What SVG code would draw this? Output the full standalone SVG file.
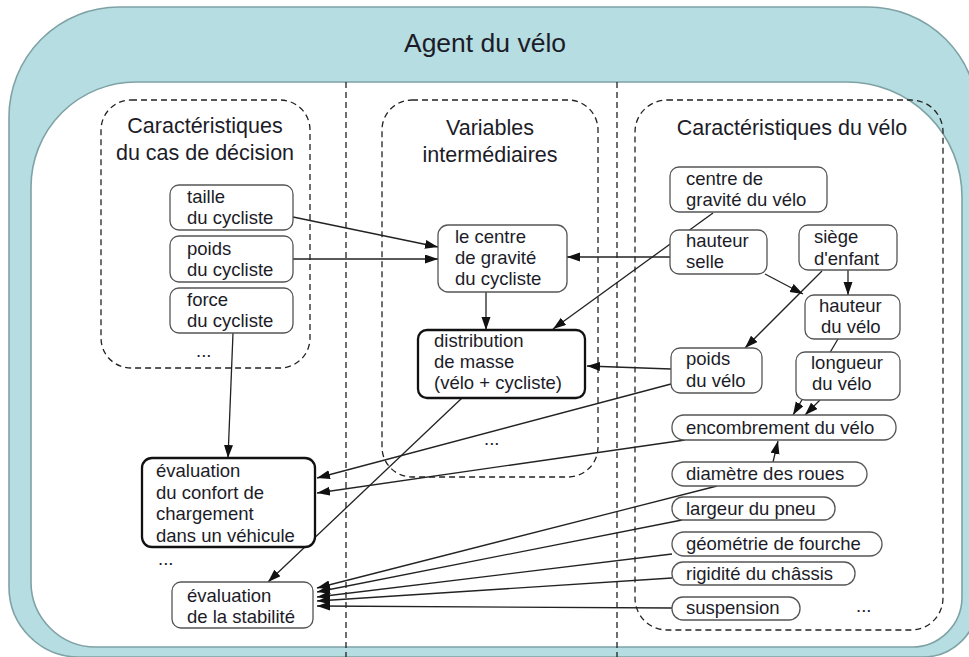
<svg xmlns="http://www.w3.org/2000/svg" width="969" height="657" viewBox="0 0 969 657">
<defs>
<marker id="ah" markerUnits="userSpaceOnUse" markerWidth="14" markerHeight="10" refX="13" refY="4.5" orient="auto">
<path d="M0,0 L13,4.5 L0,9 z" fill="#111"/>
</marker>
<style>
text{font-family:"Liberation Sans",Arial,sans-serif;fill:#1c1c28}
.ttl{font-size:21.5px;text-anchor:middle}
.nt{font-size:18.5px}
.box{fill:#fff;stroke:#555;stroke-width:1.3}
.thick{fill:#fff;stroke:#111;stroke-width:2.3}
.dash{fill:none;stroke:#222;stroke-width:1.3;stroke-dasharray:6 4}
.cn line{stroke:#222;stroke-width:1.3;marker-end:url(#ah)}
</style>
</defs>
<rect width="969" height="657" fill="#fff"/>
<g id="agent">
<path fill="#b6dde1" fill-rule="evenodd" stroke="#7fa2a5" stroke-width="1.6" d="M9,117 A110,110 0 0 1 119,7 L868,7 A110,110 0 0 1 978,117 L978,602 A55,55 0 0 1 923,657 L79,657 A70,70 0 0 1 9,587 Z M31,187 A105,105 0 0 1 136,82 L847,82 A115,115 0 0 1 962,197 L962,597 A50,50 0 0 1 912,647 L96,647 A65,65 0 0 1 31,582 Z"/>
<text x="485" y="52" style="font-size:26.5px;text-anchor:middle">Agent du vélo</text>
</g>
<g id="dividers" class="dash">
<line x1="346" y1="82" x2="346" y2="657"/>
<line x1="617" y1="82" x2="617" y2="657"/>
</g>
<g id="grp-cas">
<rect class="dash" x="101" y="100" width="209" height="268" rx="30"/>
<text class="ttl" x="205" y="133">Caractéristiques</text>
<text class="ttl" x="205" y="160">du cas de décision</text>
<text class="nt" x="196" y="357">...</text>
</g>
<g id="grp-var">
<rect class="dash" x="382" y="100" width="216" height="377" rx="30"/>
<text class="ttl" x="490" y="135">Variables</text>
<text class="ttl" x="490" y="162">intermédiaires</text>
<text class="nt" x="484" y="445">...</text>
</g>
<g id="grp-velo">
<rect class="dash" x="635" y="100" width="308" height="530" rx="32"/>
<text class="ttl" x="792" y="135">Caractéristiques du vélo</text>
<text class="nt" x="856" y="612">...</text>
</g>
<g id="connectors" class="cn">
<line x1="293" y1="217" x2="438" y2="247"/>
<line x1="293" y1="259" x2="438" y2="259"/>
<line x1="672" y1="257" x2="567" y2="257"/>
<line x1="486" y1="292" x2="486" y2="330"/>
<line x1="713" y1="213" x2="553" y2="329"/>
<line x1="671" y1="369" x2="587" y2="366"/>
<line x1="233" y1="333" x2="228" y2="458"/>
<line x1="671" y1="384" x2="317" y2="478"/>
<line x1="685" y1="440" x2="317" y2="493"/>
<line x1="462" y1="398" x2="268" y2="582"/>
<line x1="717" y1="486" x2="317" y2="588"/>
<line x1="682" y1="520" x2="317" y2="592"/>
<line x1="672" y1="554" x2="317" y2="597"/>
<line x1="672" y1="578" x2="317" y2="601"/>
<line x1="672" y1="608" x2="317" y2="606"/>
<line x1="773" y1="462" x2="778" y2="441"/>
<line x1="848" y1="270" x2="848" y2="295"/>
<line x1="822" y1="271" x2="745" y2="348"/>
<line x1="765" y1="274" x2="803" y2="294"/>
<line x1="838" y1="339" x2="793" y2="415"/>
<line x1="820" y1="400" x2="805" y2="415"/>
</g>
<g id="n-taille"><rect class="box" x="170" y="185" width="123" height="45" rx="9"/><text class="nt" x="187" y="203">taille</text><text class="nt" x="187" y="224">du cycliste</text></g>
<g id="n-poids-cycliste"><rect class="box" x="170" y="236" width="123" height="46" rx="9"/><text class="nt" x="187" y="255">poids</text><text class="nt" x="187" y="276">du cycliste</text></g>
<g id="n-force"><rect class="box" x="170" y="288" width="123" height="45" rx="9"/><text class="nt" x="187" y="306">force</text><text class="nt" x="187" y="327">du cycliste</text></g>
<g id="n-cg-cycliste"><rect class="box" x="438" y="225" width="129" height="67" rx="10"/><text class="nt" x="455" y="243">le centre</text><text class="nt" x="455" y="264">de gravité</text><text class="nt" x="455" y="285">du cycliste</text></g>
<g id="n-distribution"><rect class="thick" x="418" y="330" width="167" height="68" rx="9"/><text class="nt" x="434" y="347">distribution</text><text class="nt" x="434" y="368">de masse</text><text class="nt" x="434" y="389">(vélo + cycliste)</text></g>
<g id="n-cg-velo"><rect class="box" x="670" y="167" width="157" height="45" rx="9"/><text class="nt" x="686" y="185">centre de</text><text class="nt" x="686" y="206">gravité du vélo</text></g>
<g id="n-hauteur-selle"><rect class="box" x="670" y="230" width="97" height="44" rx="9"/><text class="nt" x="686" y="247">hauteur</text><text class="nt" x="686" y="268">selle</text></g>
<g id="n-siege"><rect class="box" x="799" y="225" width="98" height="45" rx="9"/><text class="nt" x="814" y="243">siège</text><text class="nt" x="814" y="265">d'enfant</text></g>
<g id="n-hauteur-velo"><rect class="box" x="805" y="295" width="95" height="44" rx="9"/><text class="nt" x="819" y="312">hauteur</text><text class="nt" x="821" y="333">du vélo</text></g>
<g id="n-poids-velo"><rect class="box" x="671" y="348" width="91" height="45" rx="9"/><text class="nt" x="686" y="365">poids</text><text class="nt" x="686" y="387">du vélo</text></g>
<g id="n-longueur"><rect class="box" x="796" y="352" width="104" height="48" rx="9"/><text class="nt" x="811" y="369">longueur</text><text class="nt" x="812" y="390">du vélo</text></g>
<g id="n-encombrement"><rect class="box" x="672" y="415" width="224" height="25" rx="12"/><text class="nt" x="686" y="434">encombrement du vélo</text></g>
<g id="n-diametre"><rect class="box" x="672" y="462" width="195" height="24" rx="12"/><text class="nt" x="686" y="480">diamètre des roues</text></g>
<g id="n-largeur"><rect class="box" x="672" y="497" width="163" height="23" rx="11"/><text class="nt" x="686" y="515">largeur du pneu</text></g>
<g id="n-geometrie"><rect class="box" x="672" y="532" width="210" height="24" rx="12"/><text class="nt" x="686" y="550">géométrie de fourche</text></g>
<g id="n-rigidite"><rect class="box" x="672" y="562" width="183" height="23" rx="11"/><text class="nt" x="686" y="580">rigidité du châssis</text></g>
<g id="n-suspension"><rect class="box" x="672" y="597" width="128" height="23" rx="11"/><text class="nt" x="686" y="614">suspension</text></g>
<g id="n-confort"><rect class="thick" x="142" y="458" width="173" height="89" rx="10"/><text class="nt" x="156" y="477">évaluation</text><text class="nt" x="156" y="499">du confort de</text><text class="nt" x="156" y="520">chargement</text><text class="nt" x="156" y="542">dans un véhicule</text></g>
<g id="n-confort-more"><text class="nt" x="158" y="565">...</text></g>
<g id="n-stabilite"><rect class="box" x="172" y="582" width="141" height="46" rx="9"/><text class="nt" x="187" y="602">évaluation</text><text class="nt" x="187" y="623">de la stabilité</text></g>
</svg>
